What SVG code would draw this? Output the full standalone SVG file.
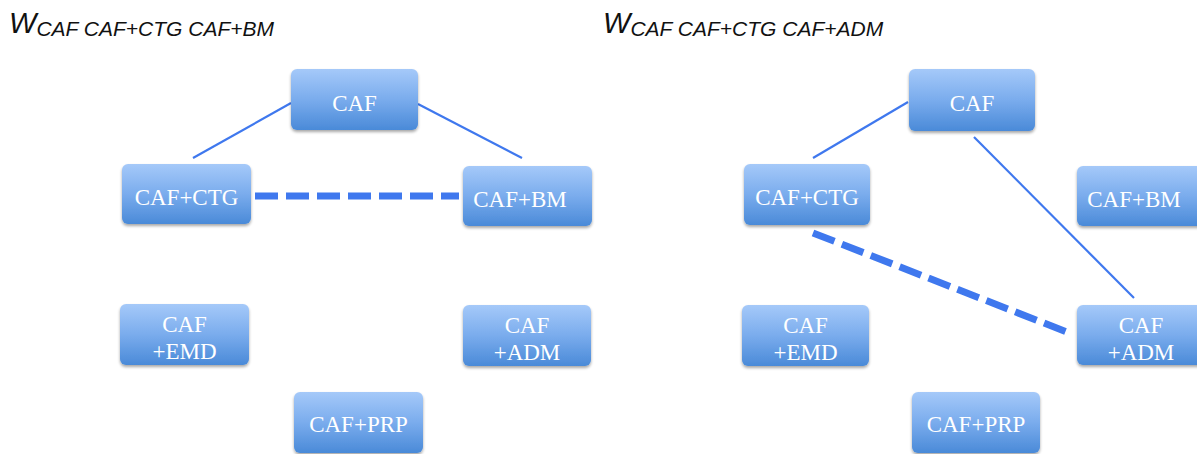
<svg xmlns="http://www.w3.org/2000/svg" width="1197" height="454" viewBox="0 0 1197 454">
  <defs>
    <linearGradient id="boxFill" x1="0" y1="0" x2="0" y2="1">
      <stop offset="0" stop-color="#a5c9f9"/>
      <stop offset="0.5" stop-color="#7aaced"/>
      <stop offset="1" stop-color="#4a8ad8"/>
    </linearGradient>
    <filter id="shadow" x="-10%" y="-10%" width="120%" height="130%">
      <feGaussianBlur in="SourceAlpha" stdDeviation="1.5"/>
      <feOffset dy="1.5" result="b"/>
      <feComponentTransfer><feFuncA type="linear" slope="0.35"/></feComponentTransfer>
      <feMerge><feMergeNode/><feMergeNode in="SourceGraphic"/></feMerge>
    </filter>
  </defs>
  <style>
    .box { fill: url(#boxFill); filter: url(#shadow); }
    .lbl { font-family: "Liberation Serif", "DejaVu Serif", serif; font-size: 23px; fill: #ffffff; text-anchor: middle; }
    .title { font-family: "Liberation Sans", Arial, sans-serif; font-style: italic; fill: #111111; }
    .solid { stroke: #3f78ee; stroke-width: 2.2; fill: none; }
    .dash { stroke: #3f78ee; stroke-width: 7; fill: none; stroke-dasharray: 23 8; }
  </style>

  <!-- panel titles -->
  <text class="title" x="9" y="33" font-size="29">W<tspan font-size="21" dy="3">CAF CAF+CTG CAF+BM</tspan></text>
  <text class="title" x="603" y="33" font-size="29">W<tspan font-size="21" dy="3">CAF CAF+CTG CAF+ADM</tspan></text>

  <!-- connectors -->
  <g id="connectors">
    <line class="solid" x1="193" y1="158" x2="291" y2="103"/>
    <line class="solid" x1="418" y1="104" x2="522" y2="158"/>
    <line class="dash" x1="255" y1="196" x2="459" y2="196"/>
    <line class="solid" x1="813" y1="158" x2="908" y2="102"/>
    <line class="solid" x1="974" y1="137" x2="1134" y2="298"/>
    <line class="dash" x1="813" y1="233" x2="1072" y2="334" stroke-width="6"/>
  </g>

  <!-- left panel nodes -->
  <g id="l-caf"><rect class="box" x="291" y="69" width="127" height="61" rx="6"/><text class="lbl" x="354.5" y="111">CAF</text></g>
  <g id="l-ctg"><rect class="box" x="122" y="164" width="129" height="60" rx="6"/><text class="lbl" x="186.5" y="205">CAF+CTG</text></g>
  <g id="l-bm"><rect class="box" x="463" y="166" width="129" height="60" rx="6"/><text class="lbl" x="520" y="207">CAF+BM</text></g>
  <g id="l-emd"><rect class="box" x="120" y="304" width="129" height="61" rx="6"/><text class="lbl" x="184.5" y="332">CAF</text><text class="lbl" x="184.5" y="359">+EMD</text></g>
  <g id="l-adm"><rect class="box" x="463" y="305" width="128" height="61" rx="6"/><text class="lbl" x="527" y="333">CAF</text><text class="lbl" x="527" y="360">+ADM</text></g>
  <g id="l-prp"><rect class="box" x="294" y="392" width="129" height="61" rx="6"/><text class="lbl" x="358.5" y="432">CAF+PRP</text></g>

  <!-- right panel nodes -->
  <g id="r-caf"><rect class="box" x="909" y="69" width="126" height="62" rx="6"/><text class="lbl" x="972" y="111">CAF</text></g>
  <g id="r-ctg"><rect class="box" x="744" y="164" width="126" height="61" rx="6"/><text class="lbl" x="807" y="205">CAF+CTG</text></g>
  <g id="r-bm"><rect class="box" x="1077" y="166" width="128" height="60" rx="6"/><text class="lbl" x="1134" y="207">CAF+BM</text></g>
  <g id="r-emd"><rect class="box" x="742" y="305" width="127" height="61" rx="6"/><text class="lbl" x="805.5" y="333">CAF</text><text class="lbl" x="805.5" y="360">+EMD</text></g>
  <g id="r-adm"><rect class="box" x="1077" y="305" width="128" height="60" rx="6"/><text class="lbl" x="1141" y="333">CAF</text><text class="lbl" x="1141" y="360">+ADM</text></g>
  <g id="r-prp"><rect class="box" x="912" y="392" width="128" height="61" rx="6"/><text class="lbl" x="976" y="432">CAF+PRP</text></g>
</svg>
